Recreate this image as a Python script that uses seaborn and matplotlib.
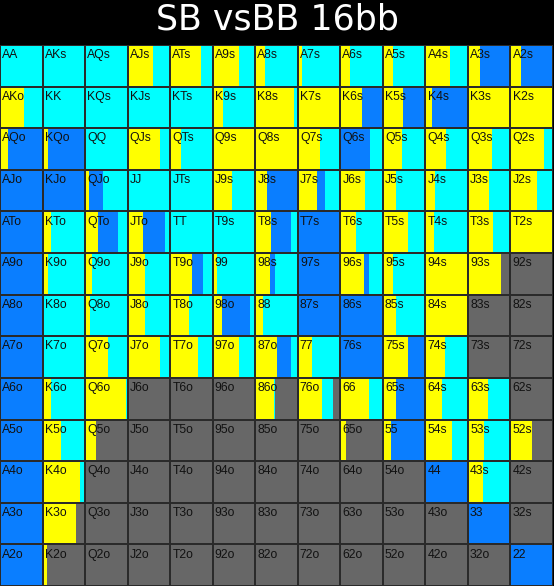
import numpy as np
import matplotlib
matplotlib.use("Agg")
import matplotlib.pyplot as plt
from matplotlib.colors import ListedColormap
import seaborn as sns

title = "SB vsBB 16bb"
ranks = ["A", "K", "Q", "J", "T", "9", "8", "7", "6", "5", "4", "3", "2"]

# percentage of each cell per action (left to right: raise, jam, limp); rest = fold
raise_pct = [
    [0, 0, 0, 60, 73, 63, 22, 10, 22, 24, 57, 28, 25],
    [57, 0, 0, 0, 0, 24, 90, 100, 50, 48, 15, 100, 100],
    [18, 14, 0, 75, 25, 100, 100, 52, 0, 45, 48, 57, 78],
    [0, 0, 10, 0, 0, 45, 27, 46, 57, 30, 22, 50, 62],
    [0, 20, 30, 35, 0, 0, 37, 0, 37, 60, 20, 60, 100],
    [0, 14, 17, 42, 52, 10, 35, 0, 55, 24, 100, 78, 0],
    [0, 2, 12, 40, 45, 23, 18, 0, 0, 30, 100, 0, 0],
    [0, 2, 53, 77, 66, 63, 50, 33, 0, 60, 46, 0, 0],
    [0, 20, 96, 0, 0, 0, 45, 56, 68, 30, 40, 47, 0],
    [0, 43, 25, 0, 0, 0, 0, 0, 14, 18, 62, 37, 50],
    [0, 87, 0, 0, 0, 0, 0, 0, 0, 0, 0, 35, 0],
    [0, 78, 0, 0, 0, 0, 0, 0, 0, 0, 0, 0, 0],
    [0, 10, 0, 0, 0, 0, 0, 0, 0, 0, 0, 0, 0],
]
jam_pct = [
    [0, 0, 0, 0, 0, 0, 0, 0, 0, 0, 0, 72, 75],
    [0, 0, 0, 0, 0, 0, 0, 0, 50, 52, 85, 0, 0],
    [82, 86, 0, 0, 0, 0, 0, 0, 70, 0, 0, 0, 0],
    [100, 100, 32, 0, 0, 0, 73, 17, 0, 0, 0, 0, 0],
    [100, 0, 47, 54, 0, 0, 48, 100, 0, 0, 0, 0, 0],
    [100, 0, 0, 0, 25, 0, 12, 100, 13, 0, 0, 0, 0],
    [100, 0, 0, 0, 0, 65, 0, 100, 100, 0, 0, 0, 0],
    [100, 0, 0, 0, 0, 0, 34, 0, 100, 36, 0, 0, 0],
    [100, 0, 0, 0, 0, 0, 0, 0, 0, 70, 0, 0, 0],
    [100, 0, 0, 0, 0, 0, 0, 0, 0, 82, 0, 0, 0],
    [100, 0, 0, 0, 0, 0, 0, 0, 0, 0, 100, 0, 0],
    [100, 0, 0, 0, 0, 0, 0, 0, 0, 0, 0, 100, 0],
    [100, 0, 0, 0, 0, 0, 0, 0, 0, 0, 0, 0, 100],
]
limp_pct = [
    [100, 100, 100, 40, 27, 37, 78, 90, 78, 76, 43, 0, 0],
    [43, 100, 100, 100, 100, 76, 10, 0, 0, 0, 0, 0, 0],
    [0, 0, 100, 25, 75, 0, 0, 48, 30, 55, 52, 43, 22],
    [0, 0, 58, 100, 100, 55, 0, 37, 43, 70, 78, 50, 38],
    [0, 80, 23, 11, 100, 100, 15, 0, 63, 40, 80, 40, 0],
    [0, 86, 83, 58, 23, 90, 53, 0, 32, 76, 0, 0, 0],
    [0, 98, 88, 60, 55, 12, 82, 0, 0, 70, 0, 0, 0],
    [0, 98, 47, 23, 34, 37, 16, 67, 0, 4, 54, 0, 0],
    [0, 80, 3, 0, 0, 0, 2, 27, 32, 0, 60, 53, 0],
    [0, 57, 0, 0, 0, 0, 0, 0, 0, 0, 38, 63, 0],
    [0, 10, 0, 0, 0, 0, 0, 0, 0, 0, 0, 65, 0],
    [0, 0, 0, 0, 0, 0, 0, 0, 0, 0, 0, 0, 0],
    [0, 0, 0, 0, 0, 0, 0, 0, 0, 0, 0, 0, 0],
]

YELLOW = "#FFFF00"
BLUE = "#0A7EFF"
CYAN = "#00FFFF"
GRAY = "#676767"
LINE = "#2a2a2a"

n = len(ranks)
fig = plt.figure(figsize=(5.54, 5.86), dpi=100, facecolor="black")
ax = fig.add_axes([0, 0, 553 / 554, 541 / 586])

# fold base (gray) via seaborn heatmap
base = np.zeros((n, n))
sns.heatmap(base, cmap=ListedColormap([GRAY]), cbar=False, ax=ax,
            xticklabels=False, yticklabels=False, linewidths=0)

R = np.array(raise_pct) / 100.0
J = np.array(jam_pct) / 100.0
L = np.array(limp_pct) / 100.0
rows = np.arange(n) + 0.5
for c in range(n):
    left = np.full(n, float(c))
    for arr, col in ((R, YELLOW), (J, BLUE), (L, CYAN)):
        w = arr[:, c]
        ax.barh(rows, w, left=left, height=1.0, color=col, linewidth=0,
                antialiased=False, zorder=2)
        left = left + w

# grid lines on top using a transparent heatmap
sns.heatmap(base, cmap=ListedColormap([(0, 0, 0, 0)]), cbar=False, ax=ax,
            xticklabels=False, yticklabels=False, linewidths=1.1, linecolor=LINE)
ax.collections[-1].set_zorder(3)

for i in range(n):
    for j in range(n):
        if i == j:
            lab = ranks[i] + ranks[j]
        elif i < j:
            lab = ranks[i] + ranks[j] + "s"
        else:
            lab = ranks[j] + ranks[i] + "o"
        ax.text(j + 0.05, i + 0.1, lab, ha="left", va="top", fontsize=8.8,
                family="Liberation Sans", color="#111111", zorder=4)

ax.set_xlim(0, n)
ax.set_ylim(n, 0)
for s in ax.spines.values():
    s.set_visible(False)

fig.text(0.5, 1 - 20 / 586, title, ha="center", va="center", color="white",
         fontsize=25, family="DejaVu Sans")

fig.savefig("out.png", dpi=100, facecolor="black")
